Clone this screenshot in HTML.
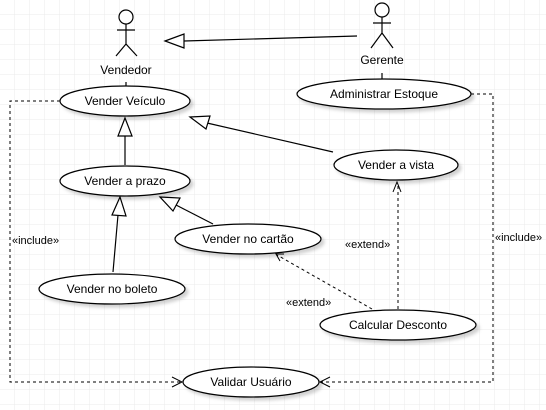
<!DOCTYPE html>
<html><head><meta charset="utf-8"><style>
html,body{margin:0;padding:0;background:#fff}
svg{display:block}
text{font-family:"Liberation Sans",sans-serif;font-size:12px;fill:#000}
</style></head><body>
<svg width="546" height="410" viewBox="0 0 546 410" xmlns="http://www.w3.org/2000/svg">
<defs>
<pattern id="g" width="15" height="15" patternUnits="userSpaceOnUse" x="0" y="0">
<path d="M15 0V15M0 15H15" fill="none" stroke="#ebebeb" stroke-width="1"/>
</pattern>
<filter id="s" x="-20%" y="-30%" width="150%" height="180%"><feDropShadow dx="3" dy="3" stdDeviation="1.5" flood-color="#000" flood-opacity="0.18"/></filter>
</defs>
<rect width="546" height="410" fill="url(#g)"/>
<g stroke="#000" stroke-width="1.2" fill="none">
<!-- Vendedor actor -->
<circle cx="126" cy="17" r="7" fill="#fff"/>
<path d="M126 24V44M117 30H135M126 44L116 56M126 44L137 56"/>
<!-- Gerente actor -->
<circle cx="382" cy="10" r="7" fill="#fff"/>
<path d="M382 17V33M373 23H391M382 33L371 48M382 33L393 48"/>
<path d="M126 82V89M382 73V80"/>
<!-- generalization gerente->vendedor -->
<path d="M357 36L184 41"/>
<path d="M165 41L184 34L184 48Z" fill="#fff"/>
<!-- prazo->veiculo -->
<path d="M125 165V136"/>
<path d="M125 118L118 136L132 136Z" fill="#fff"/>
<!-- vista->veiculo -->
<path d="M333 152L207 123"/>
<path d="M190 117L210 116L206 129Z" fill="#fff"/>
<!-- boleto->prazo -->
<path d="M113 272L118 215"/>
<path d="M120 197L112 215L126 216Z" fill="#fff"/>
<!-- cartao->prazo -->
<path d="M213 224L176 205"/>
<path d="M160 197L180 198L173 211Z" fill="#fff"/>
</g>
<g stroke="#000" stroke-width="1" fill="none" stroke-dasharray="3,3">
<path d="M60 101H10V382H181"/>
<path d="M471 94H493V382H321"/>
<path d="M398 309V183"/>
<path d="M372 309L277 255"/>
</g>
<g stroke="#000" stroke-width="1" fill="none">
<path d="M172 377L182 382L172 387"/>
<path d="M330 377L320 382L330 387"/>
<path d="M393 192L397 182L401 192"/>
<path d="M284 254L276 254L280 261"/>
</g>
<g stroke="#000" stroke-width="1.2" fill="#fff" filter="url(#s)">
<ellipse cx="125" cy="101" rx="65" ry="15"/>
<ellipse cx="384" cy="94" rx="87" ry="15"/>
<ellipse cx="125" cy="181" rx="65" ry="15"/>
<ellipse cx="396" cy="165" rx="62" ry="15"/>
<ellipse cx="248" cy="239" rx="73" ry="15"/>
<ellipse cx="112" cy="289" rx="73" ry="15"/>
<ellipse cx="398" cy="325" rx="78" ry="15"/>
<ellipse cx="251" cy="382" rx="68" ry="15"/>
</g>
<g text-anchor="middle">
<text x="126" y="74">Vendedor</text>
<text x="382" y="64">Gerente</text>
<text x="125" y="105">Vender Veículo</text>
<text x="384" y="98">Administrar Estoque</text>
<text x="125" y="185">Vender a prazo</text>
<text x="396" y="169">Vender a vista</text>
<text x="248" y="243">Vender no cartão</text>
<text x="112" y="293">Vender no boleto</text>
<text x="398" y="329">Calcular Desconto</text>
<text x="251" y="386">Validar Usuário</text>
</g>
<g style="font-size:11px" fill="#333">
<text x="12" y="244" style="font-size:11px">«include»</text>
<text x="495" y="241" style="font-size:11px">«include»</text>
<text x="345" y="248" style="font-size:11px">«extend»</text>
<text x="286" y="306" style="font-size:11px">«extend»</text>
</g>
</svg>
</body></html>
